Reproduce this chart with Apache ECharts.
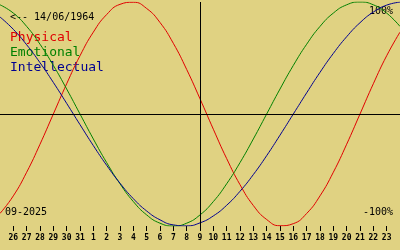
<!DOCTYPE html>
<html><head><meta charset="utf-8">
<script src="https://cdn.jsdelivr.net/npm/echarts@6/dist/echarts.min.js"></script>
<style>html,body{margin:0;padding:0;background:#E0D282}#c{width:400px;height:250px}</style>
</head><body><div id="c"></div>
<script>
var days = ['25','26','27','28','29','30','31','1','2','3','4','5','6','7','8','9','10','11','12','13','14','15','16','17','18','19','20','21','22','23','24'];
var physical = [-0.888,-0.731,-0.520,-0.270,0,0.270,0.520,0.731,0.888,0.979,0.998,0.942,0.817,0.631,0.398,0.136,-0.136,-0.398,-0.631,-0.817,-0.942,-0.998,-0.979,-0.888,-0.731,-0.520,-0.270,0,0.270,0.520,0.731];
var emotional = [0.975,0.901,0.782,0.623,0.434,0.223,0,-0.223,-0.434,-0.623,-0.782,-0.901,-0.975,-1,-0.975,-0.901,-0.782,-0.623,-0.434,-0.223,0,0.223,0.434,0.623,0.782,0.901,0.975,1,0.975,0.901,0.782];
var intellectual = [0.866,0.756,0.618,0.458,0.282,0.095,-0.095,-0.282,-0.458,-0.618,-0.756,-0.866,-0.945,-0.990,-0.999,-0.972,-0.910,-0.815,-0.690,-0.541,-0.372,-0.189,0,0.189,0.372,0.541,0.690,0.815,0.910,0.972,0.999];
var today = '9';
var birthLabel = '<-- 14/06/1964';
var monthLabel = '09-2025';
var topLabel = '100%';
var bottomLabel = '-100%';
var names = ['Physical','Emotional','Intellectual'];
var colors = ['#E00000','#008000','#000090'];

var chart = echarts.init(document.getElementById('c'), null, {renderer:'canvas'});
var mono = '"DejaVu Sans Mono", "Liberation Mono", monospace';
function ser(i, data) {
  return {name:names[i], type:'line', data:data, smooth:true, showSymbol:false, silent:true,
    lineStyle:{color:colors[i], width:1}, itemStyle:{color:colors[i]}, z:3};
}
var s0 = ser(0, physical);
s0.markLine = {silent:true, symbol:'none', label:{show:false}, lineStyle:{color:'#000', width:1, type:'solid'},
  data:[{xAxis:today},{yAxis:0}]};
chart.setOption({
  animation:false,
  backgroundColor:'#E0D282',
  grid:{left:0,right:0,top:2,bottom:24,containLabel:false},
  xAxis:{type:'category', data:days, boundaryGap:false,
    axisLine:{show:false, onZero:false},
    axisTick:{show:true, length:5, lineStyle:{color:'#000', width:1}, interval:function(i){return i>0&&i<days.length-1;}},
    axisLabel:{show:true, interval:function(i){return i>0&&i<days.length-1;}, color:'#000', fontFamily:mono, fontWeight:'bold', fontSize:8, margin:8},
    splitLine:{show:false}},
  yAxis:{type:'value', min:-1, max:1, show:false},
  series:[s0, ser(1, emotional), ser(2, intellectual)],
  graphic:[
    {type:'text', left:10, top:12, style:{text:birthLabel, font:'10px '+mono, fill:'#000'}},
    {type:'text', left:10, top:31, style:{text:names[0], font:'13px '+mono, fill:colors[0]}},
    {type:'text', left:10, top:46, style:{text:names[1], font:'13px '+mono, fill:colors[1]}},
    {type:'text', left:10, top:61, style:{text:names[2], font:'13px '+mono, fill:colors[2]}},
    {type:'text', right:7, top:6, style:{text:topLabel, font:'10px '+mono, fill:'#000'}},
    {type:'text', right:7, top:207, style:{text:bottomLabel, font:'10px '+mono, fill:'#000'}},
    {type:'text', left:5, top:207, style:{text:monthLabel, font:'10px '+mono, fill:'#000'}}
  ]
});
</script></body></html>
